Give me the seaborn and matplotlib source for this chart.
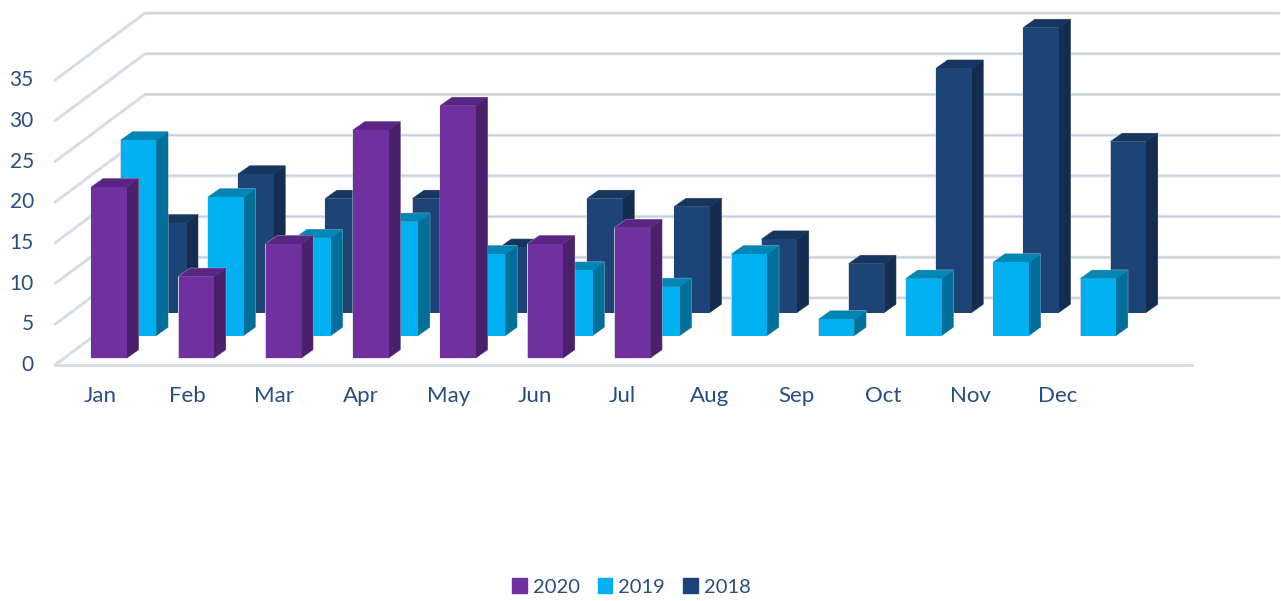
import matplotlib
matplotlib.use("Agg")
import matplotlib.pyplot as plt
from matplotlib.patches import Patch
import seaborn as sns

# Chart data
MONTHS = ["Jan", "Feb", "Mar", "Apr", "May", "Jun", "Jul", "Aug", "Sep", "Oct", "Nov", "Dec"]
Y_TICKS = [0, 5, 10, 15, 20, 25, 30, 35]
VALUES_2020 = [21, 10, 14, 28, 31, 14, 16]
VALUES_2019 = [24, 17, 12, 14, 10, 8, 6, 10, 2, 7, 9, 7]
VALUES_2018 = [11, 17, 14, 14, 8, 14, 13, 9, 6, 30, 35, 21]

# Layout, all in pixels of the 1281x601 picture
W, H = 1281, 601
PX_PER_MONTH = 87.25
PX_PER_UNIT = 8.14
BAR_PX = 35.5
SIDE_DX, SIDE_DY = 11.7, 8.3

TEXT_COLOR = "#264e80"
GRID_COLOR = "#d4dde7"
GRID_SHADE = "#c3ccd6"
HALO = "#c6cdd8"

# origin x of Jan bar centre, origin y of value 0, one axes per depth row
SERIES = [
    ("2018", VALUES_2018, 168.5, 312.5, "#1c4476", "#132c4f", "#17365f"),
    ("2019", VALUES_2019, 138.5, 335.5, "#00b0f0", "#006f99", "#0086b5"),
    ("2020", VALUES_2020, 109, 358, "#7030a0", "#4a1f6b", "#5a2583"),
]

sns.set_theme(style="white")
plt.rcParams["font.family"] = ["Lato", "DejaVu Sans"]

fig = plt.figure(figsize=(W / 100, H / 100), dpi=100)


def overlay_axes(origin_x, origin_y, px_per_month=PX_PER_MONTH, left=0, bottom=H):
    # axes whose data units are months and chart values, placed by pixels
    ax = fig.add_axes([left / W, 1 - bottom / H, (W - left) / W, bottom / H])
    ax.set_xlim((left - origin_x) / px_per_month, (W - origin_x) / px_per_month)
    ax.set_ylim((origin_y - bottom) / PX_PER_UNIT, origin_y / PX_PER_UNIT)
    ax.patch.set_alpha(0)
    return ax


# Walls and floor
grid_ax = fig.add_axes([0, 0, 1, 1])
grid_ax.set_xlim(0, W)
grid_ax.set_ylim((365 - H) / PX_PER_UNIT, 365 / PX_PER_UNIT)
grid_ax.axis("off")
back_dy = 67 / PX_PER_UNIT
for tick in Y_TICKS:
    xs = [55, 145, 1279]
    ys = [tick, tick + back_dy, tick + back_dy]
    grid_ax.plot(xs, ys, color=GRID_COLOR, lw=2.1, solid_capstyle="round", solid_joinstyle="round")
    grid_ax.plot(xs[1:], [y + 0.07 for y in ys[1:]], color=GRID_SHADE, lw=0.5)
grid_ax.plot([55, 1192], [0, 0], color=GRID_COLOR, lw=2.1, solid_capstyle="round")

# Bars, back row first
for name, values, origin_x, origin_y, front, side, top in SERIES:
    ax = overlay_axes(origin_x, origin_y)
    xlim, ylim = ax.get_xlim(), ax.get_ylim()
    sns.barplot(x=MONTHS[:len(values)], y=values, color=front, saturation=1,
                width=BAR_PX / PX_PER_MONTH, linewidth=0, ax=ax)
    dx = SIDE_DX / PX_PER_MONTH
    dy = SIDE_DY / PX_PER_UNIT
    for bar in ax.patches:
        bar.set_zorder(2)
        x0 = bar.get_x()
        x1 = x0 + bar.get_width()
        h = bar.get_height()
        # pale halo round the whole block, then the two visible faces
        ax.fill([x0, x1, x1 + dx, x1 + dx, x0 + dx, x0], [0, 0, dy, h + dy, h + dy, h],
                color=HALO, lw=0.7, zorder=0.5)
        ax.fill([x1, x1 + dx, x1 + dx, x1], [0, dy, h + dy, h], color=side, lw=0.3, zorder=1)
        ax.fill([x0, x0 + dx, x1 + dx, x1], [h, h + dy, h + dy, h], color=top, lw=0.3, zorder=1)
    ax.set_xlim(xlim)
    ax.set_ylim(ylim)
    ax.axis("off")

# Tick labels live on their own axes, they sit a little off the bars
label_ax = overlay_axes(100.2, 363, px_per_month=87.0, left=38, bottom=378)
label_ax.set_xticks(range(len(MONTHS)), MONTHS)
label_ax.set_yticks(Y_TICKS, [str(t) for t in Y_TICKS])
label_ax.tick_params(axis="both", length=0, labelsize=15, labelcolor=TEXT_COLOR)
label_ax.tick_params(axis="x", labelsize=16, pad=6)
label_ax.tick_params(axis="y", pad=3)
label_ax.grid(False)
sns.despine(ax=label_ax, left=True, bottom=True)

handles = [Patch(color=s[4], label=s[0]) for s in reversed(SERIES)]
fig.legend(handles=handles, loc="center", bbox_to_anchor=(631.5 / W, 1 - 587 / H), ncol=3,
           frameon=False, fontsize=14.5, labelcolor=TEXT_COLOR, handlelength=0.72, handleheight=0.72,
           handletextpad=0.3, columnspacing=0.9)

fig.savefig("out.png", dpi=100)
